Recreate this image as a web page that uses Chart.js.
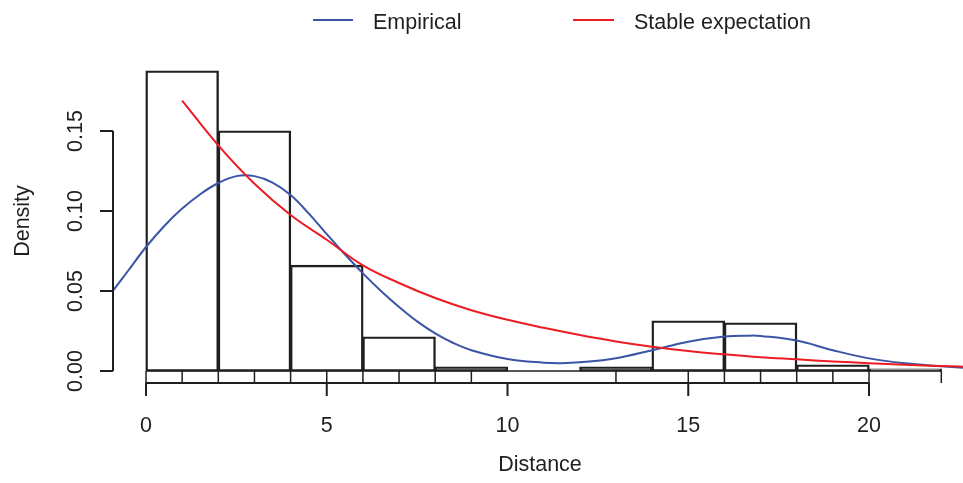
<!DOCTYPE html>
<html>
<head>
<meta charset="utf-8">
<title>Distance density</title>
<script src="https://cdn.jsdelivr.net/npm/chart.js@4.4.1/dist/chart.umd.min.js"></script>
<style>
  html, body { margin: 0; padding: 0; background: #fff; }
  #wrap { width: 963px; height: 483px; }
</style>
</head>
<body>
<div id="wrap"><canvas id="distChart" width="963" height="483"></canvas></div>
<script>
// histogram of distances (bin edges + density per bin)
const binEdges = [0, 2, 4, 6, 8, 10, 12, 14, 16, 18, 20, 22];
const binDensity = [0.1875, 0.15, 0.066, 0.02125, 0.0025, 0, 0.0025, 0.03125, 0.030, 0.00375, 0.00125];

// observed distances shown as a rug under the plot
const rugValues = [0, 1, 2, 3, 4, 5, 6, 7, 8, 9, 13, 15, 16, 17, 18, 19, 20, 22];

// empirical kernel density
const empiricalX = [-1.5, -0.9, -0.5, 0, 0.5, 1, 1.5, 2, 2.5, 3, 3.5, 4, 4.5, 5, 5.5, 6, 6.5, 7, 7.5, 8, 8.5, 9, 10, 11, 11.5, 12, 13, 14, 15, 16, 16.7, 17, 18, 19, 20, 21, 22, 23];
const empiricalY = [0.034, 0.0506, 0.0625, 0.0775, 0.0905, 0.1015, 0.1105, 0.1175, 0.1218, 0.1218, 0.1178, 0.110, 0.0985, 0.0855, 0.073, 0.061, 0.050, 0.040, 0.031, 0.0235, 0.0175, 0.013, 0.0075, 0.0052, 0.0049, 0.0054, 0.008, 0.013, 0.0183, 0.0215, 0.0221, 0.0219, 0.019, 0.013, 0.0079, 0.0048, 0.003, 0.0014];

// stable expectation curve
const stableX = [1, 2, 3, 4, 5, 6, 7, 8, 9, 10, 11, 12, 13, 14, 15, 16, 17, 18, 19, 20, 21, 22, 23];
const stableY = [0.169, 0.141, 0.117, 0.0975, 0.082, 0.066, 0.055, 0.0456, 0.038, 0.032, 0.027, 0.0225, 0.0185, 0.0152, 0.0125, 0.0104, 0.0086, 0.0073, 0.006, 0.0049, 0.0039, 0.0031, 0.0025];

const xTicks = [0, 5, 10, 15, 20];
const yTicks = [0, 0.05, 0.10, 0.15];
const yTickLabels = ['0.00', '0.05', '0.10', '0.15'];

const INK = '#1f1f1f';
const BLUE = '#3a55a6';
const RED = '#ec1c24';
const FONT = '21.5px "Liberation Sans", Arial, sans-serif';

const histData = binDensity.map((d, i) => ({ x: (binEdges[i] + binEdges[i + 1]) / 2, y: d }));
const empiricalData = empiricalX.map((x, i) => ({ x: x, y: empiricalY[i] }));
const stableData = stableX.map((x, i) => ({ x: x, y: stableY[i] }));

// R-style axes, rug, labels and legend drawn off the chart's own scales
const rStyle = {
    id: 'rStyle',
    afterDatasetsDraw(chart) {
        const ctx = chart.ctx;
        const xs = chart.scales.x;
        const ys = chart.scales.y;
        const area = chart.chartArea;
        const zeroY = ys.getPixelForValue(0);

        ctx.save();
        ctx.strokeStyle = INK;
        ctx.lineWidth = 1.5;

        // baseline of the histogram (covers empty bins too)
        ctx.beginPath();
        ctx.moveTo(xs.getPixelForValue(binEdges[0]), zeroY);
        ctx.lineTo(xs.getPixelForValue(binEdges[binEdges.length - 1]), zeroY);
        ctx.stroke();

        // rug
        rugValues.forEach(v => {
            const px = xs.getPixelForValue(v);
            ctx.beginPath();
            ctx.moveTo(px, area.bottom);
            ctx.lineTo(px, zeroY);
            ctx.stroke();
        });

        ctx.lineWidth = 2;
        // x axis
        const axY = area.bottom;
        ctx.beginPath();
        ctx.moveTo(xs.getPixelForValue(xTicks[0]), axY);
        ctx.lineTo(xs.getPixelForValue(xTicks[xTicks.length - 1]), axY);
        xTicks.forEach(t => {
            const px = xs.getPixelForValue(t);
            ctx.moveTo(px, axY);
            ctx.lineTo(px, axY + 13);
        });
        ctx.stroke();

        // y axis
        const axX = area.left;
        ctx.beginPath();
        ctx.moveTo(axX, ys.getPixelForValue(yTicks[0]));
        ctx.lineTo(axX, ys.getPixelForValue(yTicks[yTicks.length - 1]));
        yTicks.forEach(t => {
            const py = ys.getPixelForValue(t);
            ctx.moveTo(axX, py);
            ctx.lineTo(axX - 13, py);
        });
        ctx.stroke();

        ctx.fillStyle = INK;
        ctx.font = FONT;
        ctx.textAlign = 'center';
        ctx.textBaseline = 'alphabetic';
        xTicks.forEach(t => {
            ctx.fillText(String(t), xs.getPixelForValue(t), axY + 49);
        });
        ctx.fillText('Distance', 540, 471);

        yTicks.forEach((t, i) => {
            ctx.save();
            ctx.translate(82, ys.getPixelForValue(t));
            ctx.rotate(-Math.PI / 2);
            ctx.fillText(yTickLabels[i], 0, 0);
            ctx.restore();
        });
        ctx.save();
        ctx.translate(29, (area.top + area.bottom) / 2);
        ctx.rotate(-Math.PI / 2);
        ctx.fillText('Density', 0, 0);
        ctx.restore();

        // legend
        const legendItems = [
            { label: 'Empirical', color: BLUE, x0: 313, x1: 353, tx: 373 },
            { label: 'Stable expectation', color: RED, x0: 573, x1: 614, tx: 634 }
        ];
        ctx.textAlign = 'left';
        legendItems.forEach(item => {
            ctx.strokeStyle = item.color;
            ctx.lineWidth = 2;
            ctx.beginPath();
            ctx.moveTo(item.x0, 20);
            ctx.lineTo(item.x1, 20);
            ctx.stroke();
            ctx.fillText(item.label, item.tx, 29);
        });

        ctx.restore();
    }
};

new Chart(document.getElementById('distChart').getContext('2d'), {
    type: 'bar',
    data: {
        datasets: [
            {
                type: 'line',
                label: 'Stable expectation',
                data: stableData,
                borderColor: RED,
                borderWidth: 2,
                pointRadius: 0,
                tension: 0.4,
                fill: false,
                order: 0
            },
            {
                type: 'line',
                label: 'Empirical',
                data: empiricalData,
                borderColor: BLUE,
                borderWidth: 2,
                pointRadius: 0,
                tension: 0.4,
                fill: false,
                order: 1
            },
            {
                type: 'bar',
                label: 'Histogram',
                data: histData,
                backgroundColor: 'rgba(0,0,0,0)',
                borderColor: INK,
                borderWidth: 1.2,
                borderSkipped: false,
                inflateAmount: 0.6,
                barPercentage: 1,
                categoryPercentage: 1,
                order: 2
            }
        ]
    },
    options: {
        responsive: false,
        animation: false,
        events: [],
        layout: { padding: { left: 113, right: 0, top: 59, bottom: 100 } },
        plugins: {
            legend: { display: false },
            tooltip: { enabled: false }
        },
        scales: {
            x: { type: 'linear', min: -0.913, max: 22.6, offset: false, display: false },
            y: { type: 'linear', min: -0.0075, max: 0.195, display: false }
        }
    },
    plugins: [rStyle]
});
</script>
</body>
</html>
